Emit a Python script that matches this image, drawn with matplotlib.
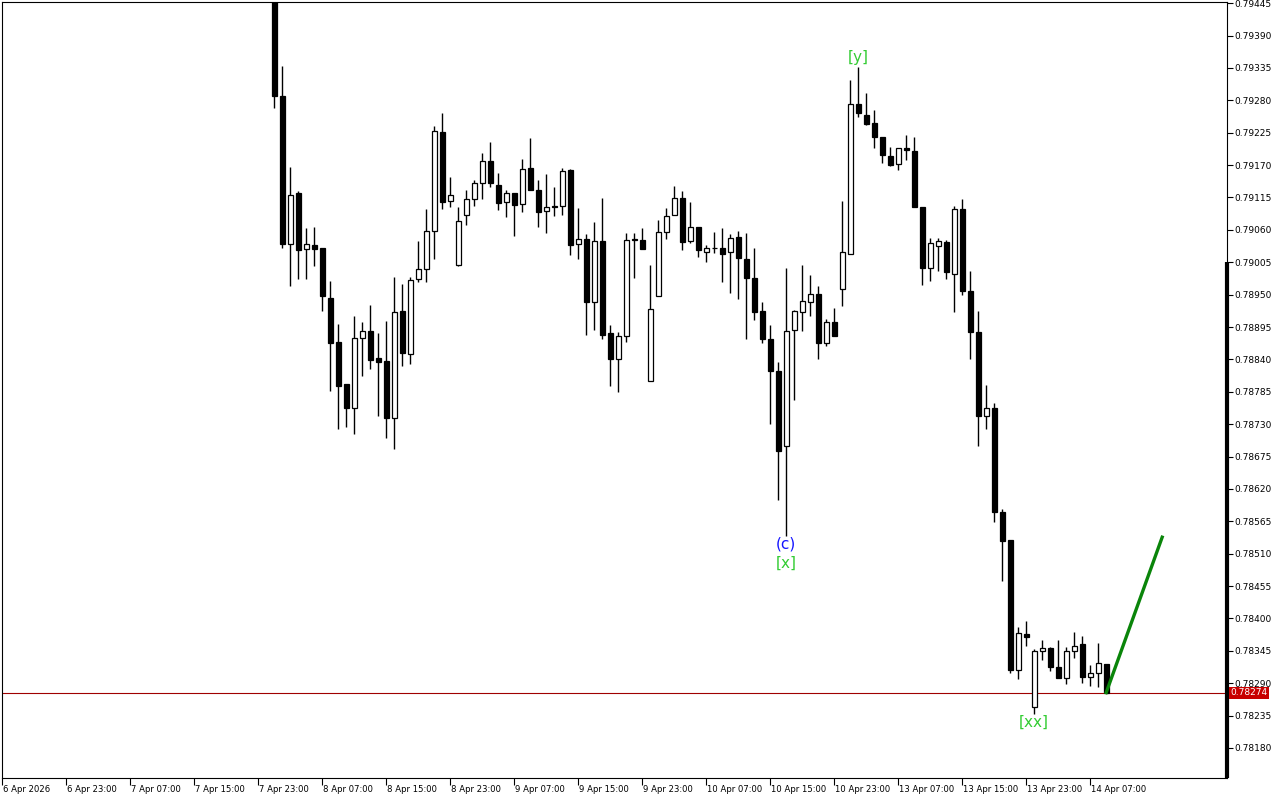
#################### Libraries
import matplotlib
matplotlib.use('Agg')
import numpy as np
import matplotlib.pyplot as plt
import matplotlib.transforms as mtransforms

#################### H1 bars, index 34 .. 138 (index 0 = 6 Apr 15:00)
bar_idx = list(range(34, 139))
opens = [0.79520, 0.79287, 0.79036, 0.79122, 0.79027, 0.79034, 0.79029, 0.78944, 0.78869, 0.78799,
         0.78757, 0.78876, 0.78888, 0.78843, 0.78837, 0.78740, 0.78922, 0.78849, 0.78976, 0.78993,
         0.79058, 0.79226, 0.79109, 0.79001, 0.79085, 0.79112, 0.79139, 0.79177, 0.79137, 0.79107,
         0.79122, 0.79104, 0.79165, 0.79127, 0.79092, 0.79101, 0.79100, 0.79161, 0.79036, 0.79044,
         0.78937, 0.79041, 0.78884, 0.78841, 0.78879, 0.79044, 0.79042, 0.78803, 0.78947, 0.79056,
         0.79085, 0.79114, 0.79041, 0.79065, 0.79022, 0.79030, 0.79029, 0.79022, 0.79048, 0.79011,
         0.78978, 0.78922, 0.78874, 0.78820, 0.78693, 0.78890, 0.78921, 0.78938, 0.78951, 0.78868,
         0.78903, 0.78960, 0.79019, 0.79273, 0.79255, 0.79241, 0.79217, 0.79185, 0.79172, 0.79199,
         0.79194, 0.79098, 0.78996, 0.79032, 0.79039, 0.78985, 0.79095, 0.78956, 0.78886, 0.78743,
         0.78758, 0.78581, 0.78533, 0.78312, 0.78374, 0.78249, 0.78344, 0.78350, 0.78317, 0.78298,
         0.78344, 0.78356, 0.78300, 0.78307, 0.78323]
highs = [0.79530, 0.79338, 0.79167, 0.79126, 0.79063, 0.79065, 0.79029, 0.78973, 0.78900, 0.78799,
         0.78914, 0.78904, 0.78932, 0.78885, 0.78905, 0.78980, 0.78968, 0.78980, 0.79041, 0.79096,
         0.79237, 0.79259, 0.79150, 0.79099, 0.79128, 0.79145, 0.79191, 0.79209, 0.79156, 0.79127,
         0.79122, 0.79180, 0.79216, 0.79145, 0.79155, 0.79133, 0.79165, 0.79163, 0.79097, 0.79053,
         0.79073, 0.79114, 0.78898, 0.78886, 0.79054, 0.79054, 0.79063, 0.79000, 0.79076, 0.79097,
         0.79135, 0.79126, 0.79108, 0.79065, 0.79035, 0.79057, 0.79063, 0.79053, 0.79058, 0.79054,
         0.79029, 0.78937, 0.78898, 0.78836, 0.78995, 0.78924, 0.79000, 0.78983, 0.78965, 0.78908,
         0.78927, 0.79109, 0.79315, 0.79337, 0.79293, 0.79264, 0.79218, 0.79200, 0.79199, 0.79221,
         0.79217, 0.79098, 0.79047, 0.79046, 0.79042, 0.79100, 0.79112, 0.78990, 0.78923, 0.78796,
         0.78766, 0.78586, 0.78533, 0.78385, 0.78396, 0.78348, 0.78363, 0.78351, 0.78363, 0.78351,
         0.78377, 0.78370, 0.78321, 0.78358, 0.78323]
lows = [0.79267, 0.79030, 0.78964, 0.78976, 0.78976, 0.78998, 0.78923, 0.78787, 0.78721, 0.78725,
        0.78714, 0.78812, 0.78823, 0.78744, 0.78707, 0.78688, 0.78828, 0.78833, 0.78972, 0.78972,
        0.79010, 0.79096, 0.79098, 0.78998, 0.79069, 0.79100, 0.79112, 0.79132, 0.79093, 0.79081,
        0.79050, 0.79091, 0.79127, 0.79064, 0.79055, 0.79084, 0.79086, 0.79018, 0.79011, 0.78882,
        0.78890, 0.78875, 0.78795, 0.78785, 0.78870, 0.78979, 0.79028, 0.78803, 0.78947, 0.79045,
        0.79085, 0.79025, 0.79037, 0.79014, 0.79006, 0.79021, 0.78972, 0.78952, 0.78942, 0.78874,
        0.78907, 0.78867, 0.78731, 0.78601, 0.78540, 0.78771, 0.78888, 0.78914, 0.78841, 0.78862,
        0.78879, 0.78930, 0.79019, 0.79251, 0.79238, 0.79199, 0.79173, 0.79169, 0.79162, 0.79178,
        0.79098, 0.78967, 0.78973, 0.78990, 0.78976, 0.78920, 0.78949, 0.78840, 0.78693, 0.78721,
        0.78564, 0.78464, 0.78307, 0.78297, 0.78354, 0.78237, 0.78329, 0.78310, 0.78298, 0.78289,
        0.78332, 0.78291, 0.78286, 0.78284, 0.78274]
closes = [0.79288, 0.79036, 0.79120, 0.79026, 0.79036, 0.79028, 0.78947, 0.78867, 0.78795, 0.78757,
          0.78876, 0.78888, 0.78839, 0.78836, 0.78741, 0.78920, 0.78850, 0.78974, 0.78993, 0.79058,
          0.79228, 0.79107, 0.79119, 0.79075, 0.79112, 0.79139, 0.79177, 0.79139, 0.79105, 0.79122,
          0.79103, 0.79163, 0.79127, 0.79091, 0.79098, 0.79099, 0.79160, 0.79035, 0.79044, 0.78937,
          0.79041, 0.78882, 0.78841, 0.78879, 0.79042, 0.79042, 0.79028, 0.78926, 0.79056, 0.79084,
          0.79114, 0.79040, 0.79064, 0.79025, 0.79030, 0.79030, 0.79019, 0.79046, 0.79013, 0.78978,
          0.78920, 0.78875, 0.78820, 0.78685, 0.78889, 0.78922, 0.78939, 0.78951, 0.78867, 0.78903,
          0.78879, 0.79022, 0.79273, 0.79258, 0.79240, 0.79217, 0.79187, 0.79171, 0.79199, 0.79195,
          0.79098, 0.78996, 0.79037, 0.79041, 0.78988, 0.79095, 0.78956, 0.78886, 0.78743, 0.78758,
          0.78581, 0.78532, 0.78312, 0.78375, 0.78369, 0.78344, 0.78350, 0.78317, 0.78298, 0.78344,
          0.78354, 0.78300, 0.78307, 0.78324, 0.78274]

#################### wave labels and projection
wave_labels = ['[y]', '(c)', '[x]', '[xx]']
wave_bars = [107, 98, 98, 129]
wave_colors = ['#33cc33', '#1414ff', '#33cc33', '#33cc33']
proj_idx = [138, 145]
proj_price = [0.78274, 0.78538]
last_price = 0.78274

#################### axes labels
price_ticks = [0.78180, 0.78235, 0.78290, 0.78345, 0.78400, 0.78455, 0.78510, 0.78565, 0.78620,
               0.78675, 0.78730, 0.78785, 0.78840, 0.78895, 0.78950, 0.79005, 0.79060, 0.79115,
               0.79170, 0.79225, 0.79280, 0.79335, 0.79390, 0.79445]
time_ticks = [0, 8, 16, 24, 32, 40, 48, 56, 64, 72, 80, 88, 96, 104, 112, 120, 128, 136]
time_labels = ['6 Apr 2026', '6 Apr 23:00', '7 Apr 07:00', '7 Apr 15:00', '7 Apr 23:00',
               '8 Apr 07:00', '8 Apr 15:00', '8 Apr 23:00', '9 Apr 07:00', '9 Apr 15:00',
               '9 Apr 23:00', '10 Apr 07:00', '10 Apr 15:00', '10 Apr 23:00', '13 Apr 07:00',
               '13 Apr 15:00', '13 Apr 23:00', '14 Apr 07:00']

#################### Figure
fig = plt.figure(figsize=(12.8, 8), dpi=100)
ax = fig.add_axes([2/1280, 22/800, 1225/1280, 776/800])
ax.set_xlim(0, 153.1)
ax.set_ylim(0.78129, 0.79447)

o = np.array(opens); h = np.array(highs); l = np.array(lows); c = np.array(closes)
x = np.array(bar_idx)
up = c > o

ax.vlines(x, l, h, color='black', lw=1)
body_bot = np.minimum(o, c)
body_h = np.abs(c - o)
ax.bar(x[up], body_h[up], bottom=body_bot[up], width=0.62, color='white',
       edgecolor='black', linewidth=0.9, zorder=3)
ax.bar(x[~up], body_h[~up], bottom=body_bot[~up], width=0.62, color='black',
       edgecolor='black', linewidth=0.9, zorder=3)

#################### last price line, projection
ax.axhline(last_price, color='#a00000', lw=0.8, zorder=1)
ax.plot(proj_idx, proj_price, color='#0a850a', lw=2.4, zorder=4)

#################### wave labels
for lab, b, col in zip(wave_labels, wave_bars, wave_colors):
    i = bar_idx.index(b)
    if lab == '[y]':
        ax.annotate(lab, (b, highs[i]), xytext=(0, 1), textcoords='offset points',
                    ha='center', va='bottom', color=col, fontsize=11)
    else:
        dy = -14 if lab == '[x]' else 0
        ax.annotate(lab, (b, lows[i]), xytext=(0, dy), textcoords='offset points',
                    ha='center', va='top', color=col, fontsize=11)

#################### price axis (right)
ax.yaxis.tick_right()
ax.set_yticks(price_ticks)
ax.set_yticklabels(['%.5f' % p for p in price_ticks])
ax.tick_params(axis='y', direction='out', length=4, width=0.8, labelsize=6.5, pad=1.5)
trans_y = mtransforms.blended_transform_factory(ax.transAxes, ax.transData)
ax.annotate('%.5f' % last_price, (1.0, last_price), xycoords=trans_y, xytext=(2.5, 0),
            textcoords='offset points', ha='left', va='center', color='white', fontsize=6.5,
            bbox=dict(facecolor='#c80000', edgecolor='none', pad=1.2), annotation_clip=False)

#################### time axis (bottom)
ax.set_xticks(time_ticks)
ax.set_xticklabels([])
ax.tick_params(axis='x', direction='out', length=5, width=0.8)
trans_x = mtransforms.blended_transform_factory(ax.transData, ax.transAxes)
for t, lab in zip(time_ticks, time_labels):
    ax.annotate(lab, (t, 0), xycoords=trans_x, xytext=(0.5, -5), textcoords='offset points',
                ha='left', va='top', fontsize=6.1, annotation_clip=False)

for s in ax.spines.values():
    s.set_linewidth(0.8)
ax.plot([1, 1], [0, (778 - 262) / 776], transform=ax.transAxes, color='black', lw=3,
        clip_on=False, solid_capstyle='butt')

fig.savefig('out.png', dpi=100, facecolor='white')
